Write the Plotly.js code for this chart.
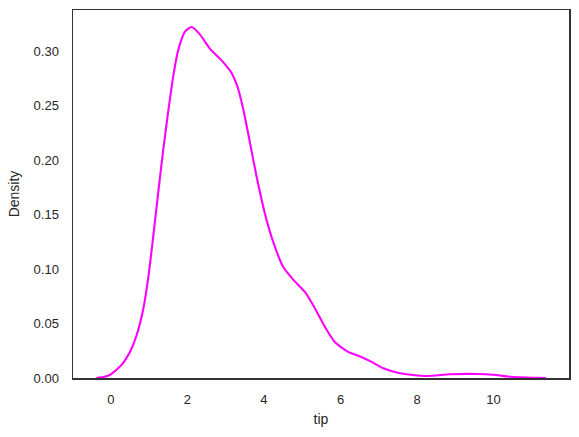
<!DOCTYPE html>
<html>
<head>
<meta charset="utf-8">
<script src="https://cdn.plot.ly/plotly-3.0.1.min.js"></script>
<style>html,body{margin:0;padding:0;background:#fff;}#chart{width:579px;height:437px;}</style>
</head>
<body>
<div id="chart"></div>
<script>
const tipValues = [-0.38, -0.2, -0.02, 0.28, 0.5, 0.67, 0.85, 0.98, 1.11, 1.24, 1.37, 1.5, 1.63, 1.76, 1.94, 2.11, 2.33, 2.59, 2.85, 3.0, 3.15, 3.3, 3.45, 3.6, 3.8, 4.03, 4.24, 4.5, 4.77, 5.07, 5.33, 5.59, 5.85, 6.2, 6.5, 6.8, 7.12, 7.55, 8.25, 8.86, 9.56, 9.99, 10.43, 11.13, 11.37];
const densityValues = [0.0, 0.0008, 0.003, 0.012, 0.024, 0.039, 0.064, 0.093, 0.131, 0.171, 0.210, 0.245, 0.277, 0.301, 0.318, 0.322, 0.315, 0.302, 0.293, 0.287, 0.280, 0.268, 0.248, 0.222, 0.186, 0.150, 0.125, 0.102, 0.09, 0.079, 0.064, 0.047, 0.033, 0.024, 0.020, 0.015, 0.0089, 0.0043, 0.0018, 0.0034, 0.0037, 0.003, 0.0012, 0.0002, 0.0];
const xTickVals = [0, 2, 4, 6, 8, 10];
const yTickVals = [0, 0.05, 0.10, 0.15, 0.20, 0.25, 0.30];
const yTickText = ["0.00", "0.05", "0.10", "0.15", "0.20", "0.25", "0.30"];

const trace = {
  x: tipValues,
  y: densityValues,
  type: 'scatter',
  mode: 'lines',
  line: {color: '#ff00ff', width: 2.1, shape: 'spline', smoothing: 0.6},
  hoverinfo: 'skip'
};

const axisCommon = {
  showgrid: false,
  zeroline: false,
  showline: true,
  mirror: true,
  linecolor: '#333333',
  linewidth: 1.5,
  ticks: 'outside',
  tickcolor: 'rgba(0,0,0,0)',
  tickfont: {family: 'Liberation Sans, Arial, sans-serif', size: 13, color: '#262626'}
};

const layout = {
  width: 579,
  height: 437,
  margin: {l: 73, r: 10, t: 10, b: 59},
  paper_bgcolor: '#ffffff',
  plot_bgcolor: '#ffffff',
  showlegend: false,
  font: {family: 'Liberation Sans, Arial, sans-serif', color: '#262626'},
  xaxis: Object.assign({}, axisCommon, {
    range: [-0.99, 11.97],
    tickvals: xTickVals,
    ticklen: 9,
    title: {text: 'tip', font: {size: 14, color: '#262626'}, standoff: 8}
  }),
  yaxis: Object.assign({}, axisCommon, {
    range: [0, 0.3376],
    tickvals: yTickVals,
    ticktext: yTickText,
    ticklen: 10,
    title: {text: 'Density', font: {size: 14, color: '#262626'}, standoff: 10}
  })
};

Plotly.newPlot('chart', [trace], layout, {displayModeBar: false, staticPlot: true});
</script>
</body>
</html>
